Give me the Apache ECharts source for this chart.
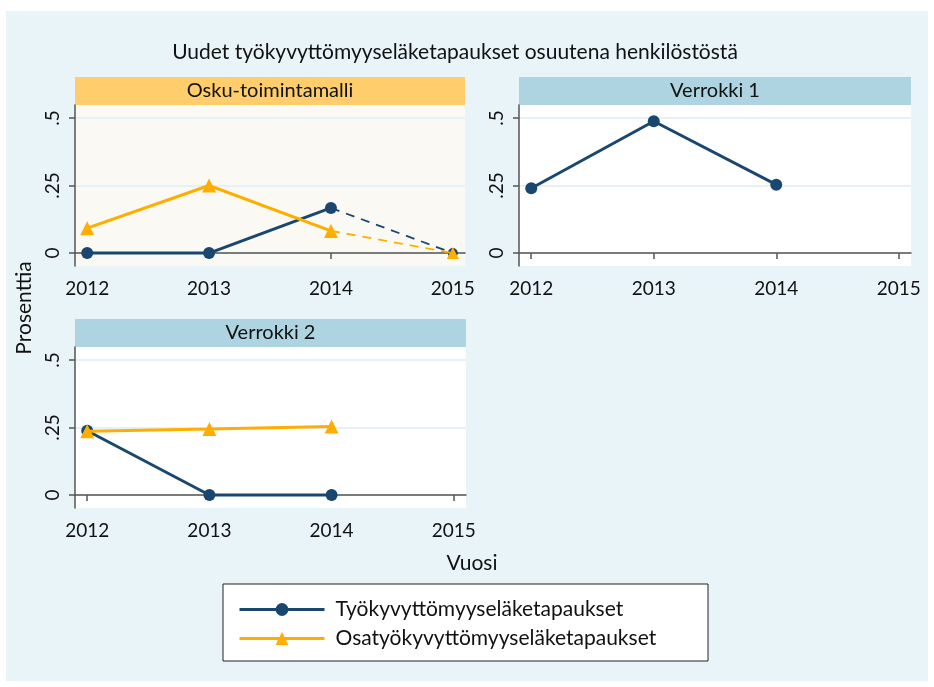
<!DOCTYPE html>
<html>
<head>
<meta charset="utf-8">
<script src="https://cdn.jsdelivr.net/npm/echarts@6/dist/echarts.min.js"></script>
<style>
html,body{margin:0;padding:0;background:#fff;}
#c{width:934px;height:687px;}
</style>
</head>
<body>
<div id="c"></div>
<script>
// ---- data ----
var years = [2012, 2013, 2014, 2015];
var yTicks = [0, 0.25, 0.5];
var panelTitles = ['Osku-toimintamalli', 'Verrokki 1', 'Verrokki 2'];
var seriesNames = ['Työkyvyttömyyseläketapaukset', 'Osatyökyvyttömyyseläketapaukset'];
var oskuTyo = [0, 0, 0.167, 0];        // 2014->2015 drawn dashed
var oskuOsa = [0.092, 0.25, 0.082, 0]; // 2014->2015 drawn dashed
var verrokki1Tyo = [0.24, 0.488, 0.253];
var verrokki2Tyo = [0.238, 0, 0];
var verrokki2Osa = [0.236, 0.244, 0.254];

var NAVY = '#1a476f', ORANGE = '#ffae00';
var FONT = 'Lato';

function pts(vals, from, to) {
  var out = [];
  for (var i = from; i <= to; i++) out.push([years[i], vals[i]]);
  return out;
}

var grids = [
  {left: 75, top: 105, width: 390, height: 161, bg: '#fbf9f4'},
  {left: 519, top: 105, width: 392, height: 161, bg: '#ffffff'},
  {left: 75, top: 347, width: 391, height: 161, bg: '#ffffff'}
];
var headerColors = ['#ffcd6b', '#aed4e1', '#aed4e1'];

var option = {
  backgroundColor: '#ffffff',
  animation: false,
  title: {
    text: 'Uudet työkyvyttömyyseläketapaukset osuutena henkilöstöstä',
    left: 450, textAlign: 'center', top: 37,
    textStyle: {fontFamily: FONT, fontSize: 21, fontWeight: 'normal', color: '#111'}
  },
  grid: grids.map(function (g) {
    return {left: g.left, top: g.top, width: g.width, height: g.height,
      show: true, backgroundColor: g.bg, borderWidth: 0, containLabel: false};
  }),
  xAxis: grids.map(function (g, i) {
    return {
      type: 'value', gridIndex: i, min: 2011.9, max: 2015.1,
      axisLine: {show: true, lineStyle: {color: '#555', width: 1.5}},
      axisTick: {show: true, customValues: years, length: 6, lineStyle: {color: '#555', width: 1.5}},
      axisLabel: {customValues: years, formatter: function (v) { return String(v); },
        fontFamily: FONT, fontSize: 19, color: '#111', margin: 13},
      splitLine: {show: false}
    };
  }),
  yAxis: grids.map(function (g, i) {
    return {
      type: 'value', gridIndex: i, min: -0.048, max: 0.548,
      axisLine: {show: true, lineStyle: {color: '#555', width: 1.5}},
      axisTick: {show: true, customValues: yTicks, length: 6, lineStyle: {color: '#555', width: 1.5}},
      axisLabel: {customValues: yTicks, rotate: 90, margin: 13,
        formatter: function (v) { return v === 0 ? '0' : String(v).replace('0.', '.'); },
        fontFamily: FONT, fontSize: 19, color: '#111'},
      splitLine: {show: true, lineStyle: {color: '#e6f1f6', width: 2}}
    };
  }),
  legend: {
    orient: 'vertical', left: 233, top: 594, itemGap: 8,
    itemWidth: 85, itemHeight: 16,
    data: seriesNames,
    lineStyle: {width: 3},
    textStyle: {fontFamily: FONT, fontSize: 21, color: '#111', padding: [0, 0, 0, 6]}
  },
  graphic: [],
  series: []
};

// background & headers
option.graphic.push({type: 'rect', z: -10, shape: {x: 6, y: 11, width: 922, height: 670}, style: {fill: '#e8f4f8'}, silent: true});
grids.forEach(function (g, i) {
  var top = g.top - 28;
  option.graphic.push({type: 'rect', shape: {x: g.left, y: top, width: g.width, height: 28},
    style: {fill: headerColors[i]}, silent: true});
  option.graphic.push({type: 'text', x: g.left + g.width / 2, y: top + 14,
    style: {text: panelTitles[i], align: 'center', verticalAlign: 'middle',
      font: '20px ' + FONT, fill: '#111'}, silent: true});
});
// legend box
option.graphic.push({type: 'rect', shape: {x: 223, y: 584, width: 485, height: 77},
  style: {fill: '#ffffff', stroke: '#222', lineWidth: 1}, z: -5, silent: true});
// axis titles
option.graphic.push({type: 'text', x: 24, y: 308, rotation: Math.PI / 2,
  style: {text: 'Prosenttia', align: 'center', verticalAlign: 'middle', font: '21px ' + FONT, fill: '#111'}, silent: true});
option.graphic.push({type: 'text', x: 472, y: 563,
  style: {text: 'Vuosi', align: 'center', verticalAlign: 'middle', font: '21px ' + FONT, fill: '#111'}, silent: true});

function line(name, gi, data, color, symbol, size, dashed) {
  return {
    type: 'line', name: name, xAxisIndex: gi, yAxisIndex: gi, data: data,
    symbol: symbol, symbolSize: size, showSymbol: true,
    lineStyle: {color: color, width: dashed ? 1.8 : 3, type: dashed ? [9, 7] : 'solid'},
    itemStyle: {color: color},
    z: color === ORANGE ? 3 : 2
  };
}

// Panel 1
option.series.push(line(seriesNames[0], 0, pts(oskuTyo, 0, 2), NAVY, 'circle', 12, false));
option.series.push(line(seriesNames[1], 0, pts(oskuOsa, 0, 2), ORANGE, 'triangle', 14, false));
option.series.push(line(seriesNames[0], 0, pts(oskuTyo, 2, 3), NAVY, 'circle', 10, true));
option.series.push(line(seriesNames[1], 0, pts(oskuOsa, 2, 3), ORANGE, 'triangle', 12, true));
// Panel 2
option.series.push(line(seriesNames[0], 1, pts(verrokki1Tyo, 0, 2), NAVY, 'circle', 12, false));
// Panel 3
option.series.push(line(seriesNames[0], 2, pts(verrokki2Tyo, 0, 2), NAVY, 'circle', 12, false));
option.series.push(line(seriesNames[1], 2, pts(verrokki2Osa, 0, 2), ORANGE, 'triangle', 14, false));

var chart = echarts.init(document.getElementById('c'), null, {renderer: 'canvas'});
chart.setOption(option);
</script>
</body>
</html>
